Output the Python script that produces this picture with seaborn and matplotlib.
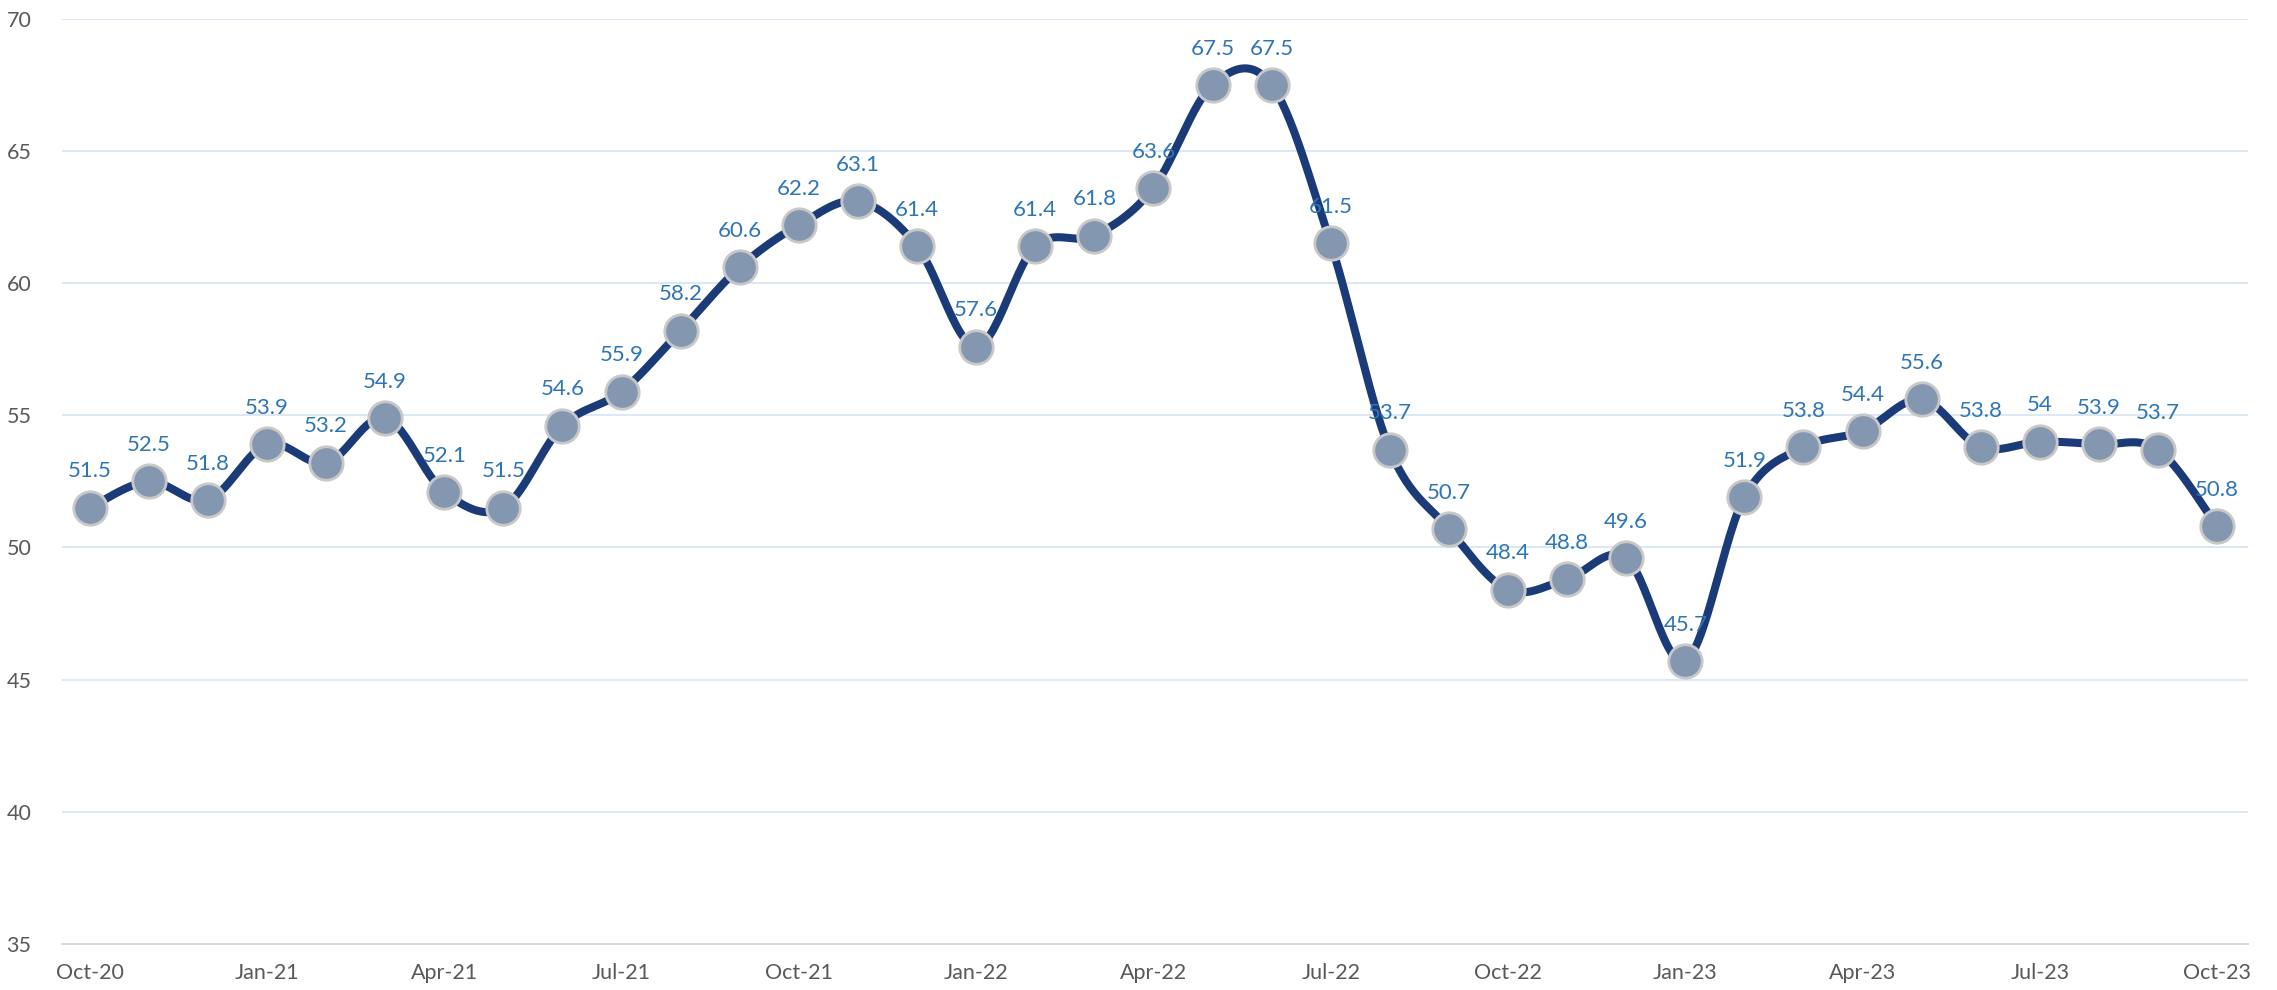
import numpy as np
import pandas as pd
import matplotlib
matplotlib.use("Agg")
import matplotlib.pyplot as plt
import seaborn as sns

# --- Data ---
months = [
    "Oct-20", "Nov-20", "Dec-20", "Jan-21", "Feb-21", "Mar-21", "Apr-21", "May-21",
    "Jun-21", "Jul-21", "Aug-21", "Sep-21", "Oct-21", "Nov-21", "Dec-21", "Jan-22",
    "Feb-22", "Mar-22", "Apr-22", "May-22", "Jun-22", "Jul-22", "Aug-22", "Sep-22",
    "Oct-22", "Nov-22", "Dec-22", "Jan-23", "Feb-23", "Mar-23", "Apr-23", "May-23",
    "Jun-23", "Jul-23", "Aug-23", "Sep-23", "Oct-23",
]
values = [
    51.5, 52.5, 51.8, 53.9, 53.2, 54.9, 52.1, 51.5,
    54.6, 55.9, 58.2, 60.6, 62.2, 63.1, 61.4, 57.6,
    61.4, 61.8, 63.6, 67.5, 67.5, 61.5, 53.7, 50.7,
    48.4, 48.8, 49.6, 45.7, 51.9, 53.8, 54.4, 55.6,
    53.8, 54, 53.9, 53.7, 50.8,
]
value_labels = [f"{v:g}" for v in values]
y_ticks = [35, 40, 45, 50, 55, 60, 65, 70]

LINE_COLOR = "#1B3A78"
MARKER_FACE = "#8497B0"
MARKER_EDGE = "#C8C8C8"
LABEL_COLOR = "#2E75B6"
TICK_COLOR = "#595959"
GRID_COLOR = "#DCE8F5"


def smooth_path(x, y, steps=30):
    """Excel-style smoothed line: cubic Bezier segments with Catmull-Rom control points."""
    x = np.asarray(x, dtype=float)
    y = np.asarray(y, dtype=float)
    px = np.concatenate([[x[0]], x, [x[-1]]])
    py = np.concatenate([[y[0]], y, [y[-1]]])
    t = np.linspace(0, 1, steps)
    xs, ys = [], []
    for i in range(1, len(px) - 2):
        p0 = np.array([px[i], py[i]])
        p3 = np.array([px[i + 1], py[i + 1]])
        c1 = p0 + (np.array([px[i + 1], py[i + 1]]) - np.array([px[i - 1], py[i - 1]])) / 6
        c2 = p3 - (np.array([px[i + 2], py[i + 2]]) - np.array([px[i], py[i]])) / 6
        b = ((1 - t) ** 3)[:, None] * p0 + (3 * (1 - t) ** 2 * t)[:, None] * c1 \
            + (3 * (1 - t) * t ** 2)[:, None] * c2 + (t ** 3)[:, None] * p3
        xs.append(b[:, 0])
        ys.append(b[:, 1])
    return np.concatenate(xs), np.concatenate(ys)


df = pd.DataFrame({"pos": np.arange(len(months)), "month": months, "value": values})
sx, sy = smooth_path(df["pos"], df["value"])
curve = pd.DataFrame({"pos": sx, "value": sy})

sns.set_style("white")
plt.rcParams["font.family"] = ["Lato", "DejaVu Sans"]

fig = plt.figure(figsize=(22.77, 9.9), dpi=100)
ax = fig.add_axes([0.0272, 0.0465, 0.9600, 0.9345])

sns.lineplot(data=curve, x="pos", y="value", sort=False, estimator=None,
             color=LINE_COLOR, linewidth=5.8, ax=ax, zorder=3)
sns.scatterplot(data=df, x="pos", y="value", s=580, color=MARKER_FACE,
                edgecolor=MARKER_EDGE, linewidth=2, ax=ax, zorder=4)

for pos, val, lab in zip(df["pos"], df["value"], value_labels):
    ax.annotate(lab, (pos, val), xytext=(0, 19), textcoords="offset points",
                ha="center", va="bottom", color=LABEL_COLOR, fontsize=16, zorder=5)

ax.set_xlim(-0.47, 36.52)
ax.set_ylim(35, 70)
ax.set_yticks(y_ticks)
ax.set_xticks(df["pos"][::3])
ax.set_xticklabels(df["month"][::3])
ax.tick_params(axis="both", length=0, labelsize=15.5, labelcolor=TICK_COLOR)
ax.tick_params(axis="x", pad=14)
ax.tick_params(axis="y", pad=22)
ax.grid(axis="y", color=GRID_COLOR, linewidth=1.5)
ax.set_axisbelow(True)
for side in ["top", "right", "left"]:
    ax.spines[side].set_visible(False)
ax.spines["bottom"].set_color("#D9D9D9")
ax.spines["bottom"].set_linewidth(1.5)
ax.set_xlabel("")
ax.set_ylabel("")

fig.savefig("out.png", dpi=100)
